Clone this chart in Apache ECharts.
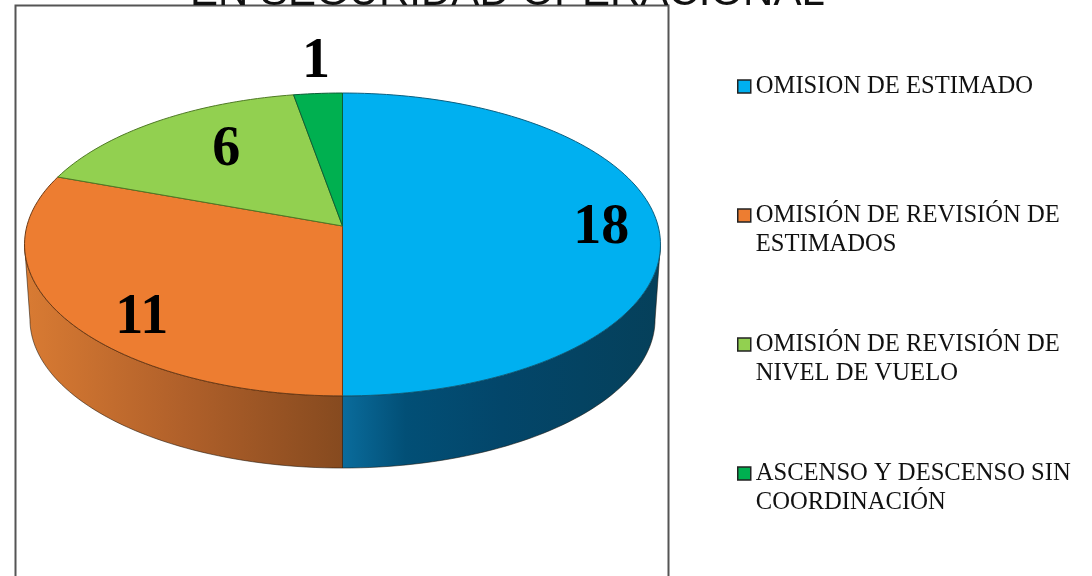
<!DOCTYPE html>
<html>
<head>
<meta charset="utf-8">
<style>
  html, body { margin: 0; padding: 0; background: #fff; }
  #chart { width: 1092px; height: 576px; }
</style>
</head>
<body>
<div id="chart"></div>
<script src="https://cdn.jsdelivr.net/npm/echarts@6/dist/echarts.min.js"></script>
<script>
const titleText = 'EN SEGURIDAD OPERACIONAL'
const categories = [
  'OMISION DE ESTIMADO',
  'OMISIÓN DE REVISIÓN DE ESTIMADOS',
  'OMISIÓN DE REVISIÓN DE NIVEL DE VUELO',
  'ASCENSO Y DESCENSO SIN COORDINACIÓN'
]
// la linea en blanco inicial deja el icono a la altura de la primera linea
const legendLines = [
  '\nOMISION DE ESTIMADO\n ',
  '\nOMISIÓN DE REVISIÓN DE\nESTIMADOS',
  '\nOMISIÓN DE REVISIÓN DE\nNIVEL DE VUELO',
  '\nASCENSO Y DESCENSO SIN\nCOORDINACIÓN'
]
const values = [18, 11, 6, 1]
const colors = ['#00B0F0', '#ED7D31', '#92D050', '#00B050']
const edgeColors = ['#0b5f80', '#6e3a14', '#4f7a25', '#0b5f36']

// sombreado de la pared lateral
const wallStops = [
  [[0, '#0a6c9c'], [0.2, '#024f76'], [0.5, '#03466a'], [1, '#05405a']],
  [[0, '#d97b33'], [0.5, '#b0602a'], [1, '#864a1f']],
  null,
  null
]

// etiquetas: radio relativo y ajuste de angulo sobre el centro de cada sector
const labelRadius = [0.82, 0.817, 0.683, 1.29]
const labelShift = [0, -8.5, 4.8, 0.7]

// perspectiva del disco
const cx = 342.5
const topY = 226
const rx = 315.6
const ry = 149.2
const persp = 0.122
const bottomY = 301
const bottomScale = 0.983
// la pared solo se ve entre estos angulos
const wallFrom = 97
const wallTo = 263

const total = values.reduce((a, b) => a + b, 0)
const starts = []
let acc = 0
values.forEach(v => {
  starts.push(acc / total * 360)
  acc += v
})

function project(deg, r, y0, scale) {
  const t = deg * Math.PI / 180
  const u = Math.sin(t) * r
  const v = -Math.cos(t) * r
  const w = 1 - persp * v
  return [cx + scale * rx * u / w, y0 + scale * ry * v / w]
}

function arc(from, to, y0, scale) {
  const pts = []
  const n = Math.max(2, Math.ceil((to - from) / 1.5))
  for (let i = 0; i <= n; i++) {
    pts.push(project(from + (to - from) * i / n, 1, y0, scale))
  }
  return pts
}

function renderSlice(index) {
  return function () {
    const from = starts[index]
    const to = from + values[index] / total * 360
    const children = []

    const a = Math.max(from, wallFrom)
    const b = Math.min(to, wallTo)
    if (b > a && wallStops[index]) {
      const pts = arc(a, b, topY, 1).concat(arc(a, b, bottomY, bottomScale).reverse())
      let stops = wallStops[index].map(s => ({ offset: s[0], color: s[1] }))
      children.push({
        type: 'polygon',
        shape: { points: pts },
        style: {
          fill: new echarts.graphic.LinearGradient(0, 0, 1, 0, stops),
          stroke: 'rgba(30,20,10,0.55)',
          lineWidth: 1
        }
      })
    }

    children.push({
      type: 'polygon',
      shape: { points: [[cx, topY]].concat(arc(from, to, topY, 1)) },
      style: { fill: colors[index], stroke: edgeColors[index], lineWidth: 1 }
    })

    const mid = (from + to) / 2 + labelShift[index]
    const p = project(mid, labelRadius[index], topY, 1)
    children.push({
      type: 'text',
      z2: 10,
      style: {
        x: p[0],
        y: p[1] + 2.5,
        text: String(values[index]),
        align: 'center',
        verticalAlign: 'middle',
        fill: '#000',
        font: 'bold 56px "Liberation Serif"'
      }
    })
    return { type: 'group', children }
  }
}

const seriesData = categories.map((name, i) => ({
  name,
  type: 'custom',
  coordinateSystem: 'none',
  silent: true,
  animation: false,
  clip: false,
  z: 3,
  itemStyle: { color: colors[i] },
  renderItem: renderSlice(i),
  data: [values[i]]
}))

const chart = echarts.init(document.getElementById('chart'), null, { renderer: 'canvas' })
chart.setOption({
  animation: false,
  backgroundColor: '#fff',
  title: {
    text: titleText,
    left: 190,
    top: -28,
    padding: 0,
    z: 0,
    textStyle: {
      fontFamily: '"Liberation Sans"',
      fontWeight: 'normal',
      fontSize: 42,
      color: '#111'
    }
  },
  legend: {
    orient: 'vertical',
    left: 737,
    top: 43,
    padding: 0,
    icon: 'rect',
    itemWidth: 13,
    itemHeight: 13,
    itemGap: 42,
    selectedMode: false,
    data: categories,
    formatter: name => legendLines[categories.indexOf(name)],
    itemStyle: { borderColor: '#222', borderWidth: 1.5 },
    textStyle: {
      fontFamily: '"Liberation Serif"',
      fontSize: 24.6,
      lineHeight: 29,
      color: '#111'
    }
  },
  // el marco tapa la parte baja del titulo
  graphic: {
    z: 2,
    elements: [
      {
        type: 'rect',
        silent: true,
        shape: { x: 15.5, y: 5.5, width: 653, height: 590 },
        style: { fill: '#fff', stroke: '#555', lineWidth: 2 }
      }
    ]
  },
  series: seriesData
})
</script>
</body>
</html>
